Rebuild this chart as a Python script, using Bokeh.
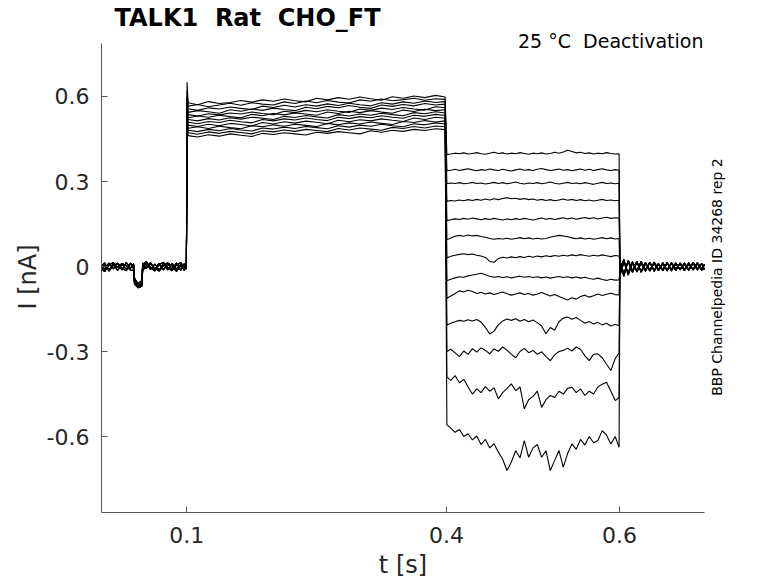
import math
from bokeh.plotting import figure
from bokeh.models import Range1d, FixedTicker, Label
from bokeh.embed import file_html
from bokeh.resources import INLINE

# ---------------- data ----------------
x_ticks = [0.1, 0.4, 0.6]
x_tick_labels = ["0.1", "0.4", "0.6"]
y_ticks = [-0.6, -0.3, 0.0, 0.3, 0.6]
y_tick_labels = ["-0.6", "-0.3", "0", "0.3", "0.6"]
x_limits = (0.0014, 0.6982)
y_limits = (-0.868, 0.787)

title_text = "TALK1 \u00a0Rat \u00a0CHO_FT"
protocol_text = "25 °C \u00a0Deactivation"
source_text = "BBP Channelpedia ID 34268 rep 2"
x_label = "t [s]"
y_label = "I [nA]"

# sample times (s)
t_pre = [0.0015, 0.005, 0.010, 0.015, 0.020, 0.025, 0.030, 0.035, 0.0385, 0.0395,
         0.044, 0.048, 0.049, 0.053, 0.058, 0.063, 0.068, 0.073, 0.078, 0.083,
         0.088, 0.093, 0.097, 0.0995]
t_spike = 0.1003
t_act = [0.1015, 0.1125, 0.125, 0.1375, 0.15, 0.1625, 0.175, 0.1875, 0.2, 0.2125,
         0.225, 0.2375, 0.25, 0.2625, 0.275, 0.2875, 0.3, 0.3125, 0.325, 0.3375,
         0.35, 0.3625, 0.375, 0.3875, 0.3985]
t_deact = [0.4005, 0.405, 0.41, 0.415, 0.42, 0.425, 0.43, 0.435, 0.44, 0.445,
           0.45, 0.455, 0.46, 0.465, 0.47, 0.475, 0.48, 0.485, 0.49, 0.495,
           0.5, 0.505, 0.51, 0.515, 0.52, 0.525, 0.53, 0.535, 0.54, 0.545,
           0.55, 0.555, 0.56, 0.565, 0.57, 0.575, 0.58, 0.585, 0.59, 0.595,
           0.5995]
t_post = [0.6005, 0.605, 0.61, 0.615, 0.62, 0.625, 0.63, 0.635, 0.64, 0.645,
          0.65, 0.655, 0.66, 0.665, 0.67, 0.675, 0.68, 0.685, 0.69, 0.695,
          0.698]

# holding baseline before the pulse (nA), four visible strands
base_a = [0.008, -0.010, 0.012, -0.008, 0.010, -0.012, 0.014, -0.006, 0.010, -0.045,
          -0.060, -0.050, 0.012, -0.008, 0.014, -0.010, 0.011, -0.012, 0.009, -0.010,
          0.012, -0.013, 0.010, -0.006]
base_b = [-0.015, 0.006, -0.012, 0.010, -0.014, 0.008, -0.010, 0.012, -0.008, -0.055,
          -0.072, -0.066, -0.006, 0.013, -0.011, 0.009, -0.013, 0.010, -0.012, 0.011,
          -0.009, 0.008, -0.014, 0.004]
base_c = [0.002, 0.013, -0.016, 0.004, 0.012, -0.006, -0.015, 0.009, 0.003, -0.040,
          -0.068, -0.058, 0.004, 0.018, -0.004, -0.016, 0.006, 0.015, -0.004, -0.015,
          0.005, 0.014, -0.003, 0.001]
base_d = [-0.006, -0.018, 0.005, 0.014, -0.004, 0.011, 0.003, -0.014, -0.012, -0.062,
          -0.075, -0.070, -0.015, 0.002, 0.008, -0.005, -0.016, 0.004, 0.013, 0.002,
          -0.017, 0.003, 0.007, -0.010]

# capacitive peak at pulse onset, per sweep
spike_peaks = [0.65, 0.62, 0.60, 0.59, 0.58, 0.58, 0.57, 0.56, 0.55, 0.54, 0.53, 0.52, 0.51]

# activation step (0.1 - 0.4 s), per sweep
act_1 = [0.578, 0.571, 0.582, 0.575, 0.579, 0.586, 0.580, 0.588, 0.583, 0.591,
         0.585, 0.581, 0.594, 0.588, 0.596, 0.590, 0.598, 0.592, 0.587, 0.599,
         0.594, 0.602, 0.596, 0.604, 0.598]
act_2 = [0.566, 0.572, 0.564, 0.570, 0.576, 0.569, 0.578, 0.573, 0.570, 0.581,
         0.575, 0.584, 0.578, 0.586, 0.580, 0.577, 0.588, 0.583, 0.591, 0.585,
         0.589, 0.594, 0.587, 0.592, 0.590]
act_3 = [0.557, 0.551, 0.560, 0.556, 0.563, 0.558, 0.554, 0.566, 0.561, 0.569,
         0.563, 0.571, 0.566, 0.574, 0.568, 0.576, 0.571, 0.567, 0.578, 0.573,
         0.581, 0.576, 0.584, 0.579, 0.582]
act_4 = [0.544, 0.550, 0.546, 0.541, 0.553, 0.548, 0.556, 0.551, 0.559, 0.554,
         0.550, 0.562, 0.557, 0.565, 0.560, 0.568, 0.562, 0.558, 0.570, 0.565,
         0.572, 0.567, 0.575, 0.570, 0.573]
act_5 = [0.536, 0.531, 0.539, 0.535, 0.542, 0.538, 0.545, 0.540, 0.536, 0.548,
         0.543, 0.551, 0.546, 0.553, 0.548, 0.544, 0.556, 0.551, 0.559, 0.554,
         0.561, 0.556, 0.552, 0.564, 0.560]
act_6 = [0.525, 0.531, 0.527, 0.534, 0.529, 0.525, 0.537, 0.532, 0.540, 0.535,
         0.542, 0.538, 0.534, 0.545, 0.540, 0.548, 0.543, 0.550, 0.545, 0.541,
         0.552, 0.547, 0.555, 0.550, 0.553]
act_7 = [0.519, 0.514, 0.522, 0.517, 0.525, 0.520, 0.527, 0.523, 0.519, 0.530,
         0.526, 0.533, 0.528, 0.524, 0.536, 0.531, 0.538, 0.534, 0.541, 0.536,
         0.532, 0.543, 0.539, 0.546, 0.542]
act_8 = [0.509, 0.504, 0.512, 0.508, 0.516, 0.511, 0.507, 0.519, 0.514, 0.521,
         0.517, 0.524, 0.519, 0.515, 0.527, 0.522, 0.529, 0.525, 0.532, 0.527,
         0.523, 0.534, 0.530, 0.537, 0.533]
act_9 = [0.499, 0.494, 0.502, 0.497, 0.505, 0.501, 0.496, 0.508, 0.503, 0.511,
         0.506, 0.513, 0.509, 0.504, 0.516, 0.511, 0.518, 0.514, 0.521, 0.516,
         0.512, 0.524, 0.519, 0.527, 0.523]
act_10 = [0.488, 0.493, 0.487, 0.495, 0.490, 0.486, 0.497, 0.493, 0.500, 0.495,
          0.502, 0.498, 0.494, 0.505, 0.500, 0.507, 0.503, 0.510, 0.505, 0.501,
          0.512, 0.508, 0.515, 0.510, 0.514]
act_11 = [0.481, 0.476, 0.484, 0.479, 0.487, 0.482, 0.478, 0.489, 0.485, 0.492,
          0.487, 0.494, 0.490, 0.486, 0.497, 0.492, 0.499, 0.495, 0.502, 0.497,
          0.493, 0.504, 0.500, 0.507, 0.503]
act_12 = [0.472, 0.467, 0.475, 0.470, 0.477, 0.473, 0.468, 0.479, 0.475, 0.482,
          0.477, 0.484, 0.480, 0.476, 0.487, 0.482, 0.489, 0.485, 0.481, 0.491,
          0.487, 0.494, 0.489, 0.496, 0.493]
act_13 = [0.462, 0.457, 0.465, 0.460, 0.468, 0.463, 0.459, 0.470, 0.466, 0.472,
          0.468, 0.464, 0.474, 0.470, 0.476, 0.472, 0.468, 0.479, 0.474, 0.481,
          0.477, 0.484, 0.480, 0.486, 0.483]

# deactivation (tail) step (0.4 - 0.6 s), per sweep
deact_1 = [0.395, 0.397, 0.400, 0.398, 0.401, 0.397, 0.399, 0.402, 0.398, 0.396,
           0.400, 0.403, 0.399, 0.401, 0.397, 0.400, 0.398, 0.402, 0.399, 0.396,
           0.400, 0.398, 0.401, 0.397, 0.399, 0.403, 0.400, 0.404, 0.410, 0.406,
           0.401, 0.403, 0.399, 0.401, 0.397, 0.400, 0.398, 0.402, 0.399, 0.397,
           0.398]
deact_2 = [0.338, 0.340, 0.343, 0.339, 0.342, 0.345, 0.341, 0.338, 0.342, 0.340,
           0.344, 0.341, 0.339, 0.343, 0.340, 0.337, 0.341, 0.344, 0.340, 0.342,
           0.339, 0.343, 0.346, 0.342, 0.339, 0.341, 0.344, 0.340, 0.342, 0.338,
           0.341, 0.344, 0.340, 0.343, 0.339, 0.342, 0.345, 0.341, 0.339, 0.342,
           0.340]
deact_3 = [0.292, 0.295, 0.293, 0.296, 0.292, 0.294, 0.297, 0.293, 0.295, 0.291,
           0.294, 0.297, 0.293, 0.296, 0.292, 0.295, 0.298, 0.294, 0.291, 0.295,
           0.293, 0.296, 0.292, 0.295, 0.298, 0.294, 0.291, 0.294, 0.297, 0.293,
           0.295, 0.292, 0.296, 0.293, 0.290, 0.294, 0.297, 0.293, 0.295, 0.292,
           0.294]
deact_4 = [0.230, 0.233, 0.231, 0.235, 0.232, 0.236, 0.233, 0.237, 0.234, 0.238,
           0.235, 0.239, 0.236, 0.240, 0.243, 0.239, 0.241, 0.237, 0.240, 0.236,
           0.238, 0.234, 0.237, 0.233, 0.236, 0.232, 0.235, 0.238, 0.234, 0.237,
           0.233, 0.236, 0.232, 0.235, 0.231, 0.234, 0.237, 0.233, 0.235, 0.232,
           0.234]
deact_5 = [0.162, 0.165, 0.168, 0.166, 0.170, 0.167, 0.171, 0.168, 0.165, 0.169,
           0.166, 0.170, 0.167, 0.164, 0.168, 0.165, 0.169, 0.166, 0.170, 0.167,
           0.164, 0.168, 0.171, 0.167, 0.170, 0.166, 0.169, 0.172, 0.168, 0.171,
           0.167, 0.170, 0.173, 0.169, 0.172, 0.168, 0.171, 0.174, 0.170, 0.172,
           0.171]
deact_6 = [0.094, 0.101, 0.107, 0.110, 0.107, 0.111, 0.108, 0.110, 0.106, 0.103,
           0.099, 0.096, 0.099, 0.097, 0.100, 0.096, 0.099, 0.102, 0.098, 0.101,
           0.097, 0.100, 0.097, 0.099, 0.103, 0.107, 0.110, 0.108, 0.105, 0.101,
           0.098, 0.101, 0.097, 0.100, 0.096, 0.099, 0.102, 0.098, 0.101, 0.097,
           0.099]
deact_7 = [0.030, 0.036, 0.040, 0.043, 0.045, 0.042, 0.044, 0.040, 0.037, 0.032,
           0.018, 0.015, 0.028, 0.033, 0.030, 0.034, 0.031, 0.035, 0.032, 0.036,
           0.033, 0.037, 0.034, 0.038, 0.035, 0.039, 0.036, 0.040, 0.037, 0.041,
           0.038, 0.042, 0.039, 0.036, 0.040, 0.037, 0.041, 0.038, 0.035, 0.039,
           0.037]
deact_8 = [-0.050, -0.045, -0.040, -0.036, -0.038, -0.033, -0.030, -0.027, -0.024, -0.029,
           -0.034, -0.038, -0.035, -0.039, -0.036, -0.040, -0.037, -0.034, -0.038, -0.035,
           -0.039, -0.036, -0.040, -0.037, -0.041, -0.038, -0.035, -0.039, -0.036, -0.040,
           -0.037, -0.041, -0.038, -0.042, -0.045, -0.041, -0.046, -0.049, -0.045, -0.048,
           -0.047]
deact_9 = [-0.112, -0.104, -0.095, -0.086, -0.090, -0.084, -0.088, -0.095, -0.091, -0.097,
           -0.093, -0.099, -0.094, -0.090, -0.096, -0.101, -0.097, -0.093, -0.099, -0.095,
           -0.101, -0.097, -0.092, -0.098, -0.104, -0.099, -0.106, -0.112, -0.118, -0.110,
           -0.115, -0.106, -0.101, -0.108, -0.103, -0.097, -0.102, -0.098, -0.094, -0.099,
           -0.100]
deact_10 = [-0.206, -0.200, -0.195, -0.190, -0.193, -0.188, -0.192, -0.187, -0.196, -0.215,
            -0.238, -0.228, -0.205, -0.192, -0.185, -0.190, -0.184, -0.193, -0.187, -0.195,
            -0.189, -0.198, -0.210, -0.237, -0.215, -0.225, -0.195, -0.182, -0.178, -0.186,
            -0.180, -0.190, -0.200, -0.194, -0.203, -0.197, -0.206, -0.200, -0.210, -0.204,
            -0.209]
deact_11 = [-0.300, -0.292, -0.305, -0.318, -0.298, -0.310, -0.290, -0.302, -0.287, -0.296,
            -0.308, -0.291, -0.299, -0.284, -0.295, -0.310, -0.322, -0.300, -0.289, -0.304,
            -0.296, -0.310, -0.301, -0.318, -0.332, -0.312, -0.300, -0.296, -0.288, -0.298,
            -0.284, -0.293, -0.315, -0.332, -0.310, -0.308, -0.322, -0.345, -0.367, -0.325,
            -0.305]
deact_12 = [-0.390, -0.402, -0.385, -0.410, -0.398, -0.425, -0.450, -0.432, -0.445, -0.424,
            -0.440, -0.428, -0.467, -0.445, -0.430, -0.414, -0.438, -0.425, -0.502, -0.470,
            -0.458, -0.440, -0.497, -0.470, -0.455, -0.462, -0.440, -0.450, -0.430, -0.426,
            -0.445, -0.432, -0.455, -0.440, -0.450, -0.425, -0.415, -0.408, -0.440, -0.473,
            -0.462]
deact_13 = [-0.558, -0.570, -0.585, -0.575, -0.600, -0.590, -0.612, -0.598, -0.628, -0.610,
            -0.640, -0.625, -0.655, -0.680, -0.720, -0.690, -0.650, -0.675, -0.614, -0.673,
            -0.640, -0.628, -0.673, -0.650, -0.720, -0.685, -0.649, -0.708, -0.660, -0.626,
            -0.645, -0.610, -0.630, -0.600, -0.622, -0.614, -0.579, -0.595, -0.626, -0.600,
            -0.638]

# return to holding after the tail step (0.6 - 0.7 s), four visible strands
post_a = [0.020, -0.025, 0.018, -0.020, 0.015, -0.018, 0.014, -0.016, 0.012, -0.015,
          0.013, -0.012, 0.011, -0.014, 0.012, -0.011, 0.013, -0.012, 0.010, -0.013,
          0.008]
post_b = [-0.030, 0.015, -0.022, 0.017, -0.019, 0.012, -0.017, 0.014, -0.013, 0.011,
          -0.015, 0.012, -0.010, 0.013, -0.012, 0.009, -0.014, 0.011, -0.012, 0.010,
          -0.009]
post_c = [0.010, -0.035, 0.022, -0.015, 0.019, -0.020, 0.010, -0.012, 0.016, -0.010,
          0.009, -0.016, 0.014, -0.008, 0.010, -0.015, 0.008, -0.010, 0.014, -0.008,
          0.005]
post_d = [-0.015, 0.025, -0.030, 0.012, -0.014, 0.018, -0.011, 0.015, -0.017, 0.008,
          -0.010, 0.014, -0.016, 0.009, -0.009, 0.012, -0.011, 0.015, -0.008, 0.011,
          -0.012]

# ---------------- assemble sweeps ----------------
bases = [base_a, base_b, base_c, base_d]
posts = [post_a, post_b, post_c, post_d]
acts = [act_1, act_2, act_3, act_4, act_5, act_6, act_7, act_8, act_9, act_10,
        act_11, act_12, act_13]
deacts = [deact_1, deact_2, deact_3, deact_4, deact_5, deact_6, deact_7, deact_8,
          deact_9, deact_10, deact_11, deact_12, deact_13]

# the plotting area covers the whole canvas; the axes are pinned at the data
# limits (fixed_location) and bounded to them, so every text can sit in the frame
W, H = 776, 582
left_px, top_px, right_px, bottom_px = 101, 43, 704, 512
px_per_s = (right_px - left_px) / (x_limits[1] - x_limits[0])
px_per_nA = (bottom_px - top_px) / (y_limits[1] - y_limits[0])
x0 = x_limits[0] - left_px / px_per_s
x1 = x_limits[0] + (W - left_px) / px_per_s
y1 = y_limits[1] + top_px / px_per_nA
y0 = y_limits[1] - (H - top_px) / px_per_nA


def xpx(px):
    return x_limits[0] + (px - left_px) / px_per_s


def ypx(py):
    return y_limits[1] + (top_px - py) / px_per_nA


p = figure(width=W, height=H, output_backend="svg", toolbar_location=None,
           x_range=Range1d(x0, x1), y_range=Range1d(y0, y1),
           min_border=0, min_border_left=0, min_border_right=0,
           min_border_top=0, min_border_bottom=0,
           background_fill_color="white", border_fill_color="white")
p.outline_line_color = None
p.grid.visible = False

for i in range(len(acts)):
    xs = t_pre + [t_spike] + t_act + t_deact + t_post
    ys = bases[i % 4] + [spike_peaks[i]] + acts[i] + deacts[i] + posts[i % 4]
    p.line(xs, ys, line_color="black", line_width=1.1)

# axes
axis_col = "#555555"
for ax in (p.xaxis[0], p.yaxis[0]):
    ax.axis_line_color = axis_col
    ax.axis_line_width = 1
    ax.major_tick_line_color = axis_col
    ax.major_tick_in = 6
    ax.major_tick_out = 0
    ax.minor_tick_in = 0
    ax.minor_tick_out = 0
    ax.major_label_text_font = "DejaVu Sans"
    ax.major_label_text_font_size = "22px"
    ax.major_label_text_color = "#262626"

p.xaxis.bounds = x_limits
p.yaxis.bounds = y_limits
p.xaxis.fixed_location = y_limits[0]
p.yaxis.fixed_location = x_limits[0]
p.xaxis.ticker = FixedTicker(ticks=x_ticks, minor_ticks=[])
p.xaxis.major_label_overrides = dict(zip(x_ticks, x_tick_labels))
p.yaxis.ticker = FixedTicker(ticks=y_ticks, minor_ticks=[])
p.yaxis.major_label_overrides = dict(zip(y_ticks, y_tick_labels))
p.xaxis.major_label_standoff = 14
p.yaxis.major_label_standoff = 12

font = "DejaVu Sans"
# axis titles
p.add_layout(Label(x=xpx(402.5), y=ypx(564), text=x_label, text_font=font,
                   text_font_size="24px", text_color="#262626",
                   text_align="center", text_baseline="alphabetic"))
p.add_layout(Label(x=xpx(27.5), y=ypx(276.5), text=y_label, text_font=font,
                   text_font_size="24px", text_color="#262626", angle=math.pi / 2,
                   text_align="center", text_baseline="middle"))
# title and notes
p.add_layout(Label(x=xpx(114), y=ypx(17.8), text=title_text, text_font=font,
                   text_font_size="24px", text_font_style="bold", text_color="black",
                   text_align="left", text_baseline="alphabetic"))
p.add_layout(Label(x=xpx(703), y=ypx(40), text=protocol_text, text_font=font,
                   text_font_size="19px", text_color="black",
                   text_align="right", text_baseline="alphabetic"))
p.add_layout(Label(x=xpx(716), y=ypx(276.5), text=source_text, text_font=font,
                   text_font_size="14px", text_color="black", angle=math.pi / 2,
                   text_align="center", text_baseline="middle"))

open("out.html", "w").write(file_html(p, INLINE))
